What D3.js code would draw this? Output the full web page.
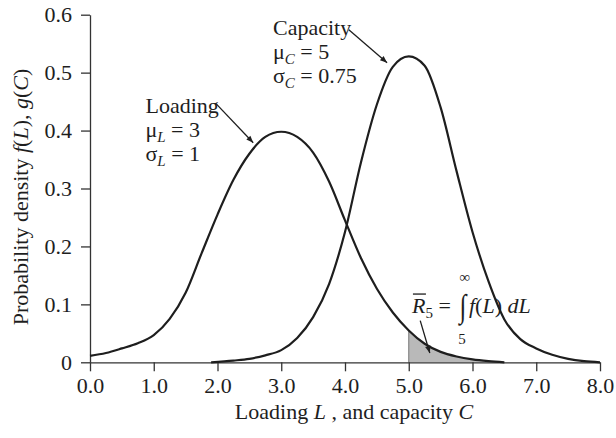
<!DOCTYPE html>
<html><head><meta charset="utf-8">
<script src="https://cdn.jsdelivr.net/npm/d3@7"></script>
<style>
html,body{margin:0;padding:0;background:#fff;}
svg{display:block;}
text{font-family:"Liberation Serif","Times New Roman",serif;fill:#1e1e1e;}
</style></head><body>
<svg id="chart" width="616" height="438"></svg>
<script>
// ---- data ----
const loadingX = [0,0.25,0.5,0.75,1.0,1.25,1.5,1.75,2.0,2.25,2.5,2.75,3.0,3.25,3.5,3.75,4.0,4.25,4.5,4.75,5.0,5.25,5.5,5.75,6.0,6.25,6.5];
const loadingY = [0.011,0.016,0.024,0.033,0.047,0.075,0.120,0.188,0.255,0.315,0.360,0.389,0.398,0.389,0.362,0.312,0.245,0.180,0.127,0.086,0.055,0.032,0.018,0.010,0.005,0.002,0.000];
const capacityX = [1.9,2.25,2.5,2.75,3.0,3.25,3.5,3.75,4.0,4.25,4.5,4.75,5.0,5.25,5.5,5.75,6.0,6.25,6.5,6.75,7.0,7.25,7.5,7.75,8.0];
const capacityY = [0.000,0.003,0.006,0.012,0.021,0.042,0.078,0.135,0.225,0.345,0.445,0.510,0.528,0.512,0.440,0.330,0.225,0.140,0.074,0.040,0.024,0.013,0.006,0.002,0.000];
const xTicks = [0,1,2,3,4,5,6,7,8];
const yTicks = [0,0.1,0.2,0.3,0.4,0.5,0.6];
const shadeFrom = 5.0;

const svg = d3.select("#chart");
const W = 616, H = 438;
const m = {left:90, right:16, top:14.7, bottom:75.7};
const x = d3.scaleLinear().domain([0,8]).range([m.left, W-m.right]);
const y = d3.scaleLinear().domain([0,0.6]).range([H-m.bottom, m.top]);

const loading = loadingX.map((v,i)=>({x:v,y:loadingY[i]}));
const capacity = capacityX.map((v,i)=>({x:v,y:capacityY[i]}));

const FS = 22;
const ink = "#1e1e1e";

// markers
const defs = svg.append("defs");
defs.append("marker").attr("id","arr").attr("viewBox","0 0 10 10")
  .attr("refX",10).attr("refY",5).attr("markerWidth",9).attr("markerHeight",7)
  .attr("markerUnits","userSpaceOnUse").attr("orient","auto")
  .append("path").attr("d","M0,1 L10,5 L0,9 Z").attr("fill",ink);

// shaded area
const shade = loading.filter(d=>d.x>=shadeFrom);
svg.append("path").datum(shade)
  .attr("d", d3.area().x(d=>x(d.x)).y0(y(0)).y1(d=>y(d.y)).curve(d3.curveMonotoneX))
  .attr("fill","#b9b9b9");
svg.append("line").attr("x1",x(shadeFrom)).attr("x2",x(shadeFrom))
  .attr("y1",y(0)).attr("y2",y(shade[0].y)).attr("stroke","#777").attr("stroke-width",1);

// axes
const yAxis = svg.append("g").attr("transform",`translate(${m.left},0)`)
  .call(d3.axisLeft(y).tickValues(yTicks).tickSize(9).tickPadding(9).tickSizeOuter(0)
    .tickFormat(d=> d===0 ? "0" : d3.format(".1f")(d)));
const xAxis = svg.append("g").attr("transform",`translate(0,${y(0)})`)
  .call(d3.axisBottom(x).tickValues(xTicks).tickSize(9).tickPadding(6).tickSizeOuter(0)
    .tickFormat(d3.format(".1f")));
[yAxis,xAxis].forEach(g=>{
  g.selectAll("path,line").attr("stroke","#333").attr("stroke-width",1.3);
  g.selectAll("text").attr("font-size",FS).attr("font-family","Liberation Serif").attr("fill",ink);
});

// curves
const line = d3.line().x(d=>x(d.x)).y(d=>y(d.y)).curve(d3.curveMonotoneX);
svg.append("path").datum(loading).attr("d",line).attr("fill","none").attr("stroke",ink).attr("stroke-width",2.2);
svg.append("path").datum(capacity).attr("d",line).attr("fill","none").attr("stroke",ink).attr("stroke-width",2.2);

// axis titles
const xt = svg.append("text").attr("x",354).attr("y",419).attr("text-anchor","middle").attr("font-size",FS);
xt.append("tspan").text("Loading ");
xt.append("tspan").attr("font-style","italic").text("L");
xt.append("tspan").text(" , and capacity ");
xt.append("tspan").attr("font-style","italic").text("C");

const yt = svg.append("text").attr("transform","translate(28,197) rotate(-90)").attr("text-anchor","middle").attr("font-size",FS);
yt.append("tspan").text("Probability density ");
yt.append("tspan").attr("font-style","italic").text("f");
yt.append("tspan").text("(");
yt.append("tspan").attr("font-style","italic").text("L");
yt.append("tspan").text("), ");
yt.append("tspan").attr("font-style","italic").text("g");
yt.append("tspan").text("(");
yt.append("tspan").attr("font-style","italic").text("C");
yt.append("tspan").text(")");

// annotation helper
function label(x0, y0, name, sub, mu, sigma){
  const g = svg.append("g").attr("transform",`translate(${x0},${y0})`);
  g.append("text").attr("font-size",FS).text(name);
  const t1 = g.append("text").attr("y",24).attr("font-size",FS);
  t1.append("tspan").text("μ");
  t1.append("tspan").attr("font-style","italic").attr("font-size",15).attr("dy",5).text(sub);
  t1.append("tspan").attr("dy",-5).text(" = " + mu);
  const t2 = g.append("text").attr("y",48).attr("font-size",FS);
  t2.append("tspan").text("σ");
  t2.append("tspan").attr("font-style","italic").attr("font-size",15).attr("dy",5).text(sub);
  t2.append("tspan").attr("dy",-5).text(" = " + sigma);
}
label(x(0.87), y(0.43), "Loading", "L", 3, 1);
label(x(2.87), y(0.565), "Capacity", "C", 5, 0.75);

function arrow(a,b){
  svg.append("line").attr("x1",x(a[0])).attr("y1",y(a[1])).attr("x2",x(b[0])).attr("y2",y(b[1]))
    .attr("stroke",ink).attr("stroke-width",1.3).attr("marker-end","url(#arr)");
}
arrow([1.98,0.446],[2.56,0.379]);
arrow([4.06,0.574],[4.66,0.517]);

// reliability integral annotation
const ax = x(5.05), ay = y(0.085);
const r = svg.append("g").attr("transform",`translate(${ax},${ay})`);
const rt = r.append("text").attr("font-size",FS);
rt.append("tspan").attr("font-style","italic").text("R");
rt.append("tspan").attr("font-size",15).attr("dy",5).text("5");
rt.append("tspan").attr("dy",-5).text(" = ");
r.append("line").attr("x1",1).attr("x2",14).attr("y1",-19).attr("y2",-19).attr("stroke",ink).attr("stroke-width",1.3);
r.append("text").attr("transform","translate(51,4) scale(1,1.3)").attr("font-size",25).attr("text-anchor","middle").text("∫");
r.append("text").attr("x",53).attr("y",-31).attr("font-size",15).attr("text-anchor","middle").text("∞");
r.append("text").attr("x",50).attr("y",31).attr("font-size",15).attr("text-anchor","middle").text("5");
const ft = r.append("text").attr("x",57).attr("font-size",FS);
ft.append("tspan").attr("font-style","italic").text("f");
ft.append("tspan").text("(");
ft.append("tspan").attr("font-style","italic").text("L");
ft.append("tspan").text(") ");
ft.append("tspan").attr("font-style","italic").text("dL");
arrow([5.18,0.072],[5.33,0.016]);
</script>
</body></html>
